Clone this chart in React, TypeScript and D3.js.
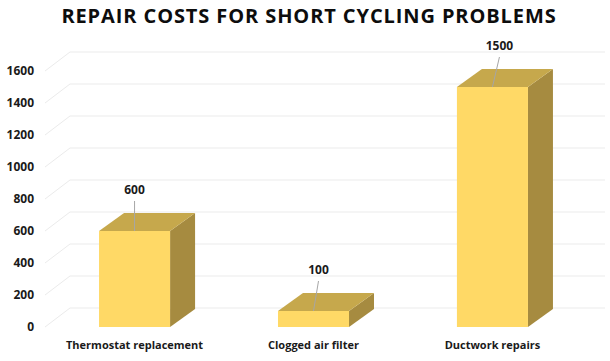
import React from "react";
import * as d3 from "d3";

const categories = ["Thermostat replacement", "Clogged air filter", "Ductwork repairs"];
const values = [600, 100, 1500];
const yTicks = [0, 200, 400, 600, 800, 1000, 1200, 1400, 1600];
const title = "REPAIR COSTS FOR SHORT CYCLING PROBLEMS";

const W = 610;
const H = 361;
const depthX = 25;
const depthY = 18;
const gridDX = 25;
const gridDY = 19;

export default function App() {
  const y = d3.scaleLinear().domain([0, 1600]).range([327, 71]);
  const x = d3
    .scaleBand<string>()
    .domain(categories)
    .range([45, 582])
    .paddingInner(0.603)
    .paddingOuter(0.302);
  const bw = x.bandwidth();
  const labelOffsets = [0, 5, 7];
  const font = "'Open Sans', 'Liberation Sans', sans-serif";

  return (
    <svg width={W} height={H} style={{ position: "absolute", left: 0, top: 0, background: "#fff" }}>
      <rect x={0} y={0} width={W} height={H} fill="#ffffff" />
      <text
        x={309}
        y={23}
        textAnchor="middle"
        fontFamily={font}
        fontWeight={700}
        fontSize={20}
        letterSpacing={0.9}
        fill="#0d0d0d"
      >
        {title}
      </text>
      {yTicks.map((t) => (
        <g key={t}>
          <line
            x1={45}
            y1={y(t)}
            x2={45 + gridDX}
            y2={y(t) - gridDY}
            stroke="#ebebeb"
            strokeWidth={1}
          />
          <line x1={45 + gridDX} y1={y(t) - gridDY} x2={605} y2={y(t) - gridDY} stroke="#ebebeb" strokeWidth={1} />
          <text
            x={34}
            y={y(t)}
            dy="0.35em"
            textAnchor="end"
            fontFamily={font}
            fontWeight={700}
            fontSize={12}
            fill="#1a1a1a"
          >
            {t}
          </text>
        </g>
      ))}
      {categories.map((c, i) => {
        const x0 = x(c)!;
        const x1 = x0 + bw;
        const yt = y(values[i]);
        const yb = y(0);
        const cx = x0 + bw / 2;
        const top = `M${x0},${yt}L${x1},${yt}L${x1 + depthX},${yt - depthY}L${x0 + depthX},${yt - depthY}Z`;
        const side = `M${x1},${yt}L${x1 + depthX},${yt - depthY}L${x1 + depthX},${yb - depthY}L${x1},${yb}Z`;
        const lx = cx + labelOffsets[i];
        const ly = yt - 37;
        return (
          <g key={c}>
            <path d={side} fill="#a68b40" />
            <path d={top} fill="#c6a84c" />
            <rect x={x0} y={yt} width={bw} height={yb - yt} fill="#ffd966" />
            <line x1={lx} y1={ly + 7} x2={cx} y2={yt} stroke="#a6a6a6" strokeWidth={1} />
            <text
              x={lx}
              y={ly}
              textAnchor="middle"
              fontFamily={font}
              fontWeight={700}
              fontSize={12}
              fill="#1a1a1a"
            >
              {values[i]}
            </text>
            <text
              x={cx}
              y={349}
              textAnchor="middle"
              fontFamily={font}
              fontWeight={700}
              fontSize={11}
              fill="#1a1a1a"
            >
              {c}
            </text>
          </g>
        );
      })}
    </svg>
  );
}
